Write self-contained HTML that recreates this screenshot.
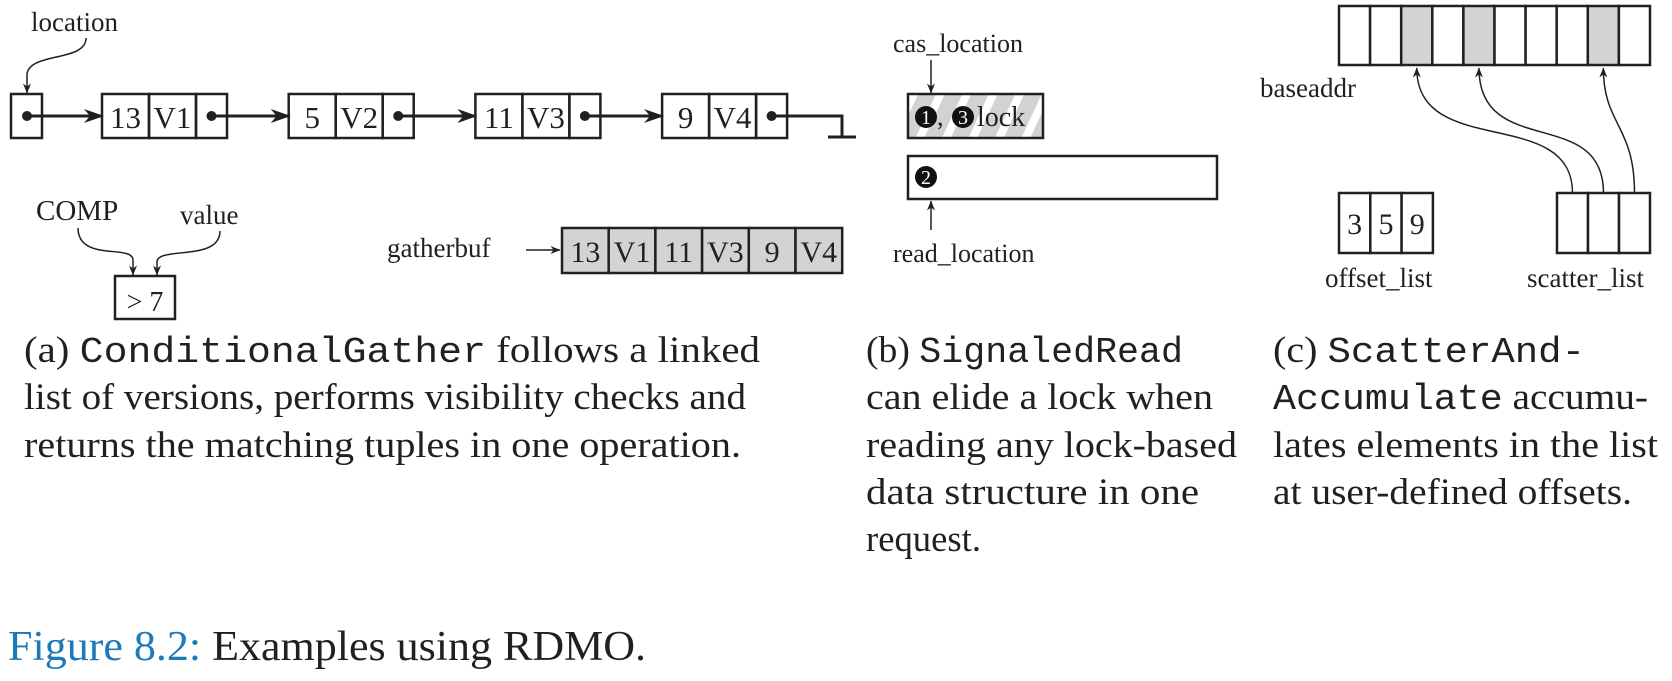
<!DOCTYPE html>
<html><head><meta charset="utf-8"><style>
html,body{margin:0;padding:0;background:#fff;}
svg{display:block;}
text{font-family:"Liberation Serif",serif;fill:#231f20;}
.mono{font-family:"Liberation Mono",monospace;}
</style></head><body>
<svg id="fig" width="1672" height="681" viewBox="0 0 1672 681" xmlns="http://www.w3.org/2000/svg">
<defs>
<marker id="bigArrow" viewBox="0 0 20 14" refX="19" refY="7" markerWidth="20" markerHeight="14" markerUnits="userSpaceOnUse" orient="auto"><path d="M0,0 L20,7 L0,14 L6,7 Z" fill="#231f20"/></marker>
<marker id="smallArrow" viewBox="0 0 10 8" refX="9.5" refY="4" markerWidth="10" markerHeight="8" markerUnits="userSpaceOnUse" orient="auto"><path d="M0,0 L10,4 L0,8 L3,4 Z" fill="#231f20"/></marker>
<pattern id="hatch" patternUnits="userSpaceOnUse" width="24" height="24" patternTransform="rotate(25)"><rect width="24" height="24" fill="#d2d2d2"/><rect x="0" width="8" height="24" fill="#ffffff"/></pattern>
</defs>
<g id="diagram-a"></g>
<g id="diagram-b">
  <text x="893" y="52" font-size="26">cas_location</text>
  <line x1="931" y1="60" x2="931" y2="93" stroke="#231f20" stroke-width="1.5" marker-end="url(#smallArrow)"/>
  <rect x="908" y="94" width="135" height="44" fill="url(#hatch)" stroke="#231f20" stroke-width="2.5"/>
  <circle cx="926" cy="117" r="11" fill="#111"/>
  <text x="926" y="124" font-size="20" text-anchor="middle" style="fill:#fff">1</text>
  <text x="937" y="125" font-size="26">,</text>
  <circle cx="963" cy="117" r="11" fill="#111"/>
  <text x="963" y="124" font-size="20" text-anchor="middle" style="fill:#fff">3</text>
  <text x="977" y="126" font-size="28">lock</text>
  <rect x="908" y="156" width="309" height="43" fill="#fff" stroke="#231f20" stroke-width="2.5"/>
  <circle cx="926" cy="177" r="11" fill="#111"/>
  <text x="926" y="184" font-size="20" text-anchor="middle" style="fill:#fff">2</text>
  <line x1="931" y1="230" x2="931" y2="201" stroke="#231f20" stroke-width="1.5" marker-end="url(#smallArrow)"/>
  <text x="893" y="262" font-size="26">read_location</text>
</g>
<g id="diagram-c"></g>
<g id="captions">
  <text x="24" y="362" font-size="37" textLength="736" lengthAdjust="spacingAndGlyphs">(a) <tspan class="mono" font-size="36">ConditionalGather</tspan>  follows a linked</text>
  <text x="24" y="409" font-size="37" textLength="722" lengthAdjust="spacingAndGlyphs">list of versions, performs visibility checks and</text>
  <text x="24" y="457" font-size="37" textLength="717" lengthAdjust="spacingAndGlyphs">returns the matching tuples in one operation.</text>
  <text x="866" y="362" font-size="37" textLength="317" lengthAdjust="spacingAndGlyphs">(b) <tspan class="mono" font-size="36">SignaledRead</tspan></text>
  <text x="866" y="409" font-size="37" textLength="347" lengthAdjust="spacingAndGlyphs">can elide a lock when</text>
  <text x="866" y="457" font-size="37" textLength="371" lengthAdjust="spacingAndGlyphs">reading any lock-based</text>
  <text x="866" y="504" font-size="37" textLength="333" lengthAdjust="spacingAndGlyphs">data structure in one</text>
  <text x="866" y="551" font-size="37" textLength="115" lengthAdjust="spacingAndGlyphs">request.</text>
  <text x="1273" y="362" font-size="37" textLength="312" lengthAdjust="spacingAndGlyphs">(c) <tspan class="mono" font-size="36">ScatterAnd-</tspan></text>
  <text x="1273" y="409" font-size="37" textLength="375" lengthAdjust="spacingAndGlyphs"><tspan class="mono" font-size="36">Accumulate</tspan> accumu-</text>
  <text x="1273" y="457" font-size="37" textLength="385" lengthAdjust="spacingAndGlyphs">lates elements in the list</text>
  <text x="1273" y="504" font-size="37" textLength="359" lengthAdjust="spacingAndGlyphs">at user-defined offsets.</text>
  <text x="8" y="660" font-size="42" textLength="638" lengthAdjust="spacingAndGlyphs"><tspan style="fill:#1f78b8">Figure 8.2:</tspan> Examples using RDMO.</text>
</g>
</svg>
<script>
const nodeKeys = ["13", "5", "11", "9"];
const nodeValues = ["V1", "V2", "V3", "V4"];
const gatherItems = ["13", "V1", "11", "V3", "9", "V4"];
const baseaddrCells = 10;
const shadedCells = [2, 4, 8];
const offsetList = ["3", "5", "9"];
const scatterCells = 3;

const NS = "http://www.w3.org/2000/svg";
const ink = "#231f20";
function mk(tag, attrs, parent) {
  const e = document.createElementNS(NS, tag);
  for (const k in attrs) e.setAttribute(k, attrs[k]);
  parent.appendChild(e);
  return e;
}
function txt(s, attrs, parent) { const t = mk("text", attrs, parent); t.textContent = s; return t; }

const A = document.getElementById("diagram-a");
let e = txt("location", {x: 31, y: 31, "font-size": 27}, A);


e = mk("path", {d: "M86,38 C86,62 30,52 27,74 L27,93", fill: "none", stroke: ink, "stroke-width": 1.5, "marker-end": "url(#smallArrow)"}, A);


e = mk("rect", {x: 11, y: 94, width: 31, height: 44, fill: "#fff", stroke: ink, "stroke-width": 2.5}, A);


mk("circle", {cx: 27, cy: 116, r: 5, fill: ink}, A);

const nodeX0 = 102, nodeStep = 186.7, cellW = [47, 47, 31];
let prevDotX = 27;
nodeKeys.forEach((k, i) => {
  const x = nodeX0 + i * nodeStep;
  const g = mk("g", {}, A);
  
  
  const ar = mk("line", {x1: prevDotX, y1: 116, x2: x + 1, y2: 116, stroke: ink, "stroke-width": 3, "marker-end": "url(#bigArrow)"}, g);
  
  
  let cx = x;
  cellW.forEach(w => { mk("rect", {x: cx, y: 94, width: w, height: 44, fill: "none", stroke: ink, "stroke-width": 2.5}, g); cx += w; });
  const kt = txt(k, {x: x + 23.5, y: 128, "font-size": 31, "text-anchor": "middle"}, g);
  
  
  const vt = txt(nodeValues[i], {x: x + 70.5, y: 128, "font-size": 31, "text-anchor": "middle"}, g);
  
  
  prevDotX = x + 109.5;
  mk("circle", {cx: prevDotX, cy: 116, r: 5, fill: ink}, g);
});
e = mk("path", {d: "M" + prevDotX + ",116 L842,116 L842,137 M828,137 L856,137", fill: "none", stroke: ink, "stroke-width": 3}, A);



e = txt("COMP", {x: 36, y: 220, "font-size": 29}, A);


e = txt("value", {x: 180, y: 224, "font-size": 27}, A);


e = mk("path", {d: "M78,228 C78,262 133,244 133,260 L133,275", fill: "none", stroke: ink, "stroke-width": 1.5, "marker-end": "url(#smallArrow)"}, A);


e = mk("path", {d: "M220,231 C220,262 157,246 157,262 L157,275", fill: "none", stroke: ink, "stroke-width": 1.5, "marker-end": "url(#smallArrow)"}, A);


e = mk("rect", {x: 115, y: 276, width: 60, height: 43, fill: "none", stroke: ink, "stroke-width": 2.5}, A);


e = txt("> 7", {x: 145, y: 311, "font-size": 28, "text-anchor": "middle"}, A);



e = txt("gatherbuf", {x: 387, y: 257, "font-size": 27}, A);


e = mk("line", {x1: 526, y1: 250, x2: 560, y2: 250, stroke: ink, "stroke-width": 1.5, "marker-end": "url(#smallArrow)"}, A);


const gX0 = 562, gW = 46.7;
gatherItems.forEach((s, i) => {
  const r = mk("rect", {x: gX0 + i * gW, y: 228, width: gW, height: 45, fill: "#d3d3d3", stroke: ink, "stroke-width": 2.5}, A);
  
  
  const t = txt(s, {x: gX0 + i * gW + gW / 2, y: 262, "font-size": 30, "text-anchor": "middle"}, A);
  
  
});

const C = document.getElementById("diagram-c");
const bX0 = 1339, bW = 31.1;
for (let i = 0; i < baseaddrCells; i++) {
  const r = mk("rect", {x: bX0 + i * bW, y: 6, width: bW, height: 59, fill: shadedCells.includes(i) ? "#d3d3d3" : "#fff", stroke: ink, "stroke-width": 2.5}, C);
  
  
}
e = txt("baseaddr", {x: 1260, y: 97, "font-size": 27}, C);


const oX0 = 1339, oW = 31.3;
offsetList.forEach((s, i) => {
  const r = mk("rect", {x: oX0 + i * oW, y: 193, width: oW, height: 60, fill: "#fff", stroke: ink, "stroke-width": 2.5}, C);
  
  
  const t = txt(s, {x: oX0 + i * oW + oW / 2, y: 234, "font-size": 30, "text-anchor": "middle"}, C);
  
  
});
const sX0 = 1557, sW = 31;
for (let i = 0; i < scatterCells; i++) {
  const r = mk("rect", {x: sX0 + i * sW, y: 193, width: sW, height: 60, fill: "#fff", stroke: ink, "stroke-width": 2.5}, C);
  
  
}
shadedCells.forEach((c, i) => {
  const x1 = sX0 + (i + 0.5) * sW, x2 = bX0 + (c + 0.5) * bW;
  const d = i < 2
    ? `M${x1},193 C${x1},105 ${x2},160 ${x2},68`
    : `M${x1},193 C${x1},125 ${x2},125 ${x2},68`;
  const p = mk("path", {d: d, fill: "none", stroke: ink, "stroke-width": 1.5, "marker-end": "url(#smallArrow)"}, C);
  
  
});
e = txt("offset_list", {x: 1325, y: 287, "font-size": 27}, C);


e = txt("scatter_list", {x: 1527, y: 287, "font-size": 27}, C);


</script>
</body></html>
